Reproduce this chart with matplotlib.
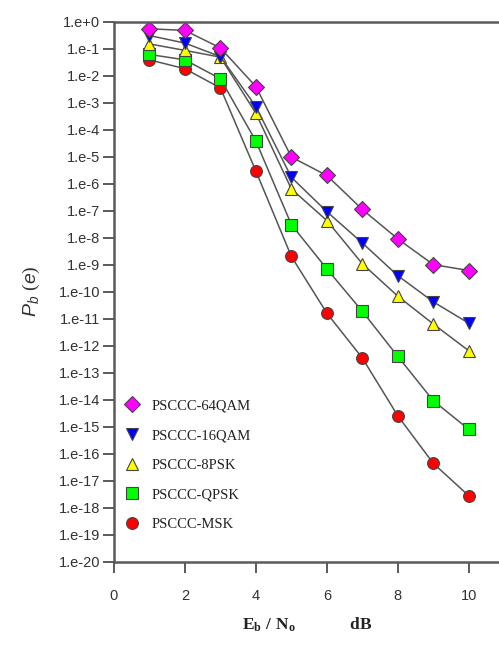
import numpy as np
import matplotlib.pyplot as plt
from matplotlib.lines import Line2D

plt.rcParams['mathtext.fontset'] = 'custom'
plt.rcParams['mathtext.rm'] = 'Liberation Serif'
plt.rcParams['mathtext.bf'] = 'Liberation Serif:bold'
plt.rcParams['mathtext.it'] = 'Liberation Sans:italic'

# Eb/No in dB
ebno = [1, 2, 3, 4, 5, 6, 7, 8, 9, 10]

# error probabilities, given as log10 values
log_64qam = [-0.27, -0.33, -0.98, -2.41, -5.02, -5.70, -6.96, -8.05, -9.00, -9.22]
log_16qam = [-0.52, -0.80, -1.30, -3.15, -5.77, -7.04, -8.20, -9.41, -10.38, -11.17]
log_8psk  = [-0.83, -1.07, -1.32, -3.40, -6.20, -7.37, -8.97, -10.17, -11.20, -12.19]
log_qpsk  = [-1.22, -1.42, -2.12, -4.43, -7.52, -9.16, -10.73, -12.40, -14.04, -15.10]
log_msk   = [-1.42, -1.75, -2.46, -5.54, -8.70, -10.80, -12.46, -14.60, -16.36, -17.56]

labels  = ['PSCCC-64QAM', 'PSCCC-16QAM', 'PSCCC-8PSK', 'PSCCC-QPSK', 'PSCCC-MSK']
series  = [log_64qam, log_16qam, log_8psk, log_qpsk, log_msk]
markers = ['D', 'v', '^', 's', 'o']
colors  = ['#ff00ff', '#0000ff', '#ffff00', '#00ff00', '#ff0000']
msizes  = [8, 9, 9, 8, 8.5]

ytick_exp = list(range(0, -21, -1))
ytick_lab = ['1.e+0'] + ['1.e%d' % e for e in ytick_exp[1:]]

edge = '#444444'
txt = '#333333'

fig = plt.figure(figsize=(4.99, 6.49), dpi=100)
ax = fig.add_axes([114/499, 1 - 561.7/649, 1 - 114/499 + 0.002, (561.7 - 21.5)/649])

# draw the lowest curve first so the upper markers sit on top
for i in reversed(range(len(series))):
    ax.plot(ebno, 10.0 ** np.array(series[i]), color='#555555', lw=1.1,
            marker=markers[i], ms=msizes[i], mfc=colors[i], mec=edge, mew=0.8)

ax.set_yscale('log')
ax.set_ylim(1e-20, 1.0)
ax.set_xlim(0, 10.88)
ax.set_yticks([10.0 ** e for e in ytick_exp])
ax.set_yticklabels(ytick_lab)
ax.yaxis.set_minor_locator(plt.NullLocator())
ax.set_xticks([0, 2, 4, 6, 8, 10])

for s in ['left', 'top', 'bottom']:
    ax.spines[s].set_color('#5a5a5a')
    ax.spines[s].set_linewidth(1.8)
ax.spines['right'].set_visible(False)

ax.tick_params(axis='both', direction='out', length=8, width=1.4,
               color='#5a5a5a', labelcolor=txt, labelsize=10.5)
ax.tick_params(axis='x', pad=12)
ax.tick_params(axis='y', pad=2)
for t in ax.get_xticklabels() + ax.get_yticklabels():
    t.set_family('Liberation Sans')

ax.set_ylabel(r'$P_b\ (e)$', fontsize=14, color=txt, labelpad=12)
ax.set_xlabel(r'$\mathbf{E_b\ /\ N_o}$          $\mathbf{dB}$', fontsize=12.5,
              color='#222222', labelpad=9)

handles = [Line2D([], [], ls='none', marker=markers[i], ms=msizes[i],
                  mfc=colors[i], mec=edge, mew=0.8) for i in range(len(labels))]
leg = ax.legend(handles, labels, loc='upper left', bbox_to_anchor=(0.0, 1 - (389 - 21.5)/540.2),
                frameon=False, handlelength=1.0, handletextpad=0.9,
                labelspacing=1.13, borderaxespad=0.3,
                prop={'family': 'Liberation Serif', 'size': 10.5})
for t in leg.get_texts():
    t.set_color('#222222')

fig.savefig('out.png', dpi=100)
